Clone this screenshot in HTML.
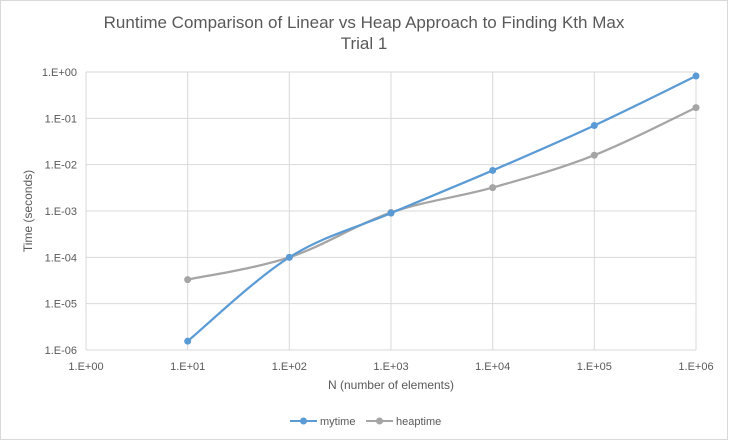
<!DOCTYPE html>
<html><head><meta charset="utf-8"><style>
body{margin:0;background:#fff}
svg{display:block;font-family:"Liberation Sans",sans-serif}
</style></head><body>
<svg id="chart" width="729" height="441" viewBox="0 0 729 441">
<rect x="0.5" y="0.5" width="727" height="439" fill="#fff" stroke="#d9d9d9"/>
<text x="364" y="28" text-anchor="middle" font-size="17" fill="#595959">Runtime Comparison of Linear vs Heap Approach to Finding Kth Max</text>
<text x="364" y="49" text-anchor="middle" font-size="17" fill="#595959">Trial 1</text>
<g id="grid"></g><g id="ticks"></g><g id="series"></g>
<text x="391" y="389" text-anchor="middle" font-size="12" fill="#595959">N (number of elements)</text>
<text transform="translate(32,211) rotate(-90)" text-anchor="middle" font-size="12" fill="#595959">Time (seconds)</text>
<g>
<g><line x1="290" y1="421" x2="317" y2="421" stroke="#5b9bd5" stroke-width="2"/><circle cx="303.5" cy="421" r="3.5" fill="#5b9bd5"/><text x="320" y="425" font-size="11" fill="#595959">mytime</text></g>
<g><line x1="366" y1="421" x2="393" y2="421" stroke="#a5a5a5" stroke-width="2"/><circle cx="379.5" cy="421" r="3.5" fill="#a5a5a5"/><text x="396" y="425" font-size="11" fill="#595959">heaptime</text></g>
</g>
</svg>
<script>
const xValues=[10,100,1000,10000,100000,1000000];
const mytime=[1.55e-6,1e-4,9.0e-4,7.5e-3,7.0e-2,0.82];
const heaptime=[3.3e-5,1e-4,9.3e-4,3.2e-3,1.6e-2,0.17];
const xTickLabels=["1.E+00","1.E+01","1.E+02","1.E+03","1.E+04","1.E+05","1.E+06"];
const yTickLabels=["1.E-06","1.E-05","1.E-04","1.E-03","1.E-02","1.E-01","1.E+00"];
const L=86,R=696,T=72,B=350;
const NS="http://www.w3.org/2000/svg";
function xs(v){return L+(Math.log10(v)-0)/6*(R-L);}
function ys(v){return B-(Math.log10(v)+6)/6*(B-T);}
function mk(tag,attrs,parent){const e=document.createElementNS(NS,tag);for(const k in attrs)e.setAttribute(k,attrs[k]);parent.appendChild(e);return e;}
const grid=document.getElementById('grid'),ticks=document.getElementById('ticks'),series=document.getElementById('series');
for(let i=0;i<=6;i++){
 const y=ys(Math.pow(10,i-6));
 const g=mk('line',{x1:L,x2:R,y1:y,y2:y,stroke:'#d9d9d9','stroke-width':1},grid);
 
 
 const t=mk('text',{x:L-9,y:y+4,'text-anchor':'end','font-size':11,fill:'#595959'},ticks);
 t.textContent=yTickLabels[i];
 
 
 const x=xs(Math.pow(10,i));
 const g2=mk('line',{x1:x,x2:x,y1:T,y2:B,stroke:'#d9d9d9','stroke-width':1},grid);
 
 
 const t2=mk('text',{x:x,y:370,'text-anchor':'middle','font-size':11,fill:'#595959'},ticks);
 t2.textContent=xTickLabels[i];
 
 
}
function smooth(p){let d='M'+p[0][0]+','+p[0][1];const t=0.17;
 for(let i=0;i<p.length-1;i++){const p0=p[i-1]||p[i],p1=p[i],p2=p[i+1],p3=p[i+2]||p2;
 const c1=[p1[0]+(p2[0]-p0[0])*t,p1[1]+(p2[1]-p0[1])*t],c2=[p2[0]-(p3[0]-p1[0])*t,p2[1]-(p3[1]-p1[1])*t];
 d+=' C'+c1+' '+c2+' '+p2;}return d;}
function draw(vals,color,name){
 const pts=xValues.map((x,i)=>[xs(x),ys(vals[i])]);
 const p=mk('path',{d:smooth(pts),fill:'none',stroke:color,'stroke-width':2.25},series);
 
 
 pts.forEach(q=>{const c=mk('circle',{cx:q[0],cy:q[1],r:3.5,fill:color},series);
 
 });
}
draw(heaptime,'#a5a5a5','heaptime');
draw(mytime,'#5b9bd5','mytime');
</script>
</body></html>
